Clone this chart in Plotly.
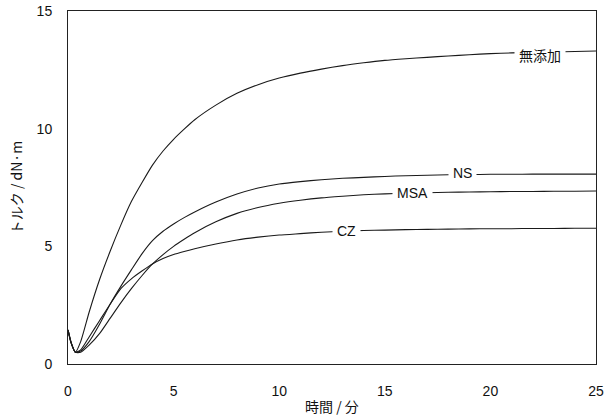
import plotly.graph_objects as go

time_min = [0, 0.15, 0.35, 0.6, 1.0, 1.5, 2.0, 2.5, 3.0, 3.5, 4.0, 4.5, 5.0, 5.5, 6.0,
            7.0, 8.0, 9.0, 10.0, 11.0, 12.0, 13.0, 14.0, 15.0, 16.0, 17.0, 18.0,
            19.0, 20.0, 21.0, 22.0, 23.0, 24.0, 25.0]

mutenka = [1.45, 0.9, 0.5, 0.95, 2.2, 3.6, 4.8, 5.9, 6.9, 7.7, 8.45, 9.05, 9.55, 9.98, 10.38,
           11.0, 11.5, 11.87, 12.15, 12.36, 12.53, 12.68, 12.8, 12.9, 12.97, 13.03, 13.09,
           13.14, 13.19, 13.22, 13.24, 13.26, 13.28, 13.3]
ns = [1.45, 0.9, 0.5, 0.55, 0.95, 1.7, 2.55, 3.3, 4.0, 4.68, 5.24, 5.64, 5.95, 6.22, 6.46,
      6.88, 7.22, 7.48, 7.65, 7.75, 7.83, 7.89, 7.93, 7.97, 8.0, 8.02, 8.04,
      8.05, 8.06, 8.06, 8.07, 8.07, 8.07, 8.07]
msa = [1.45, 0.9, 0.5, 0.5, 0.8, 1.3, 1.95, 2.6, 3.2, 3.75, 4.25, 4.65, 5.0, 5.3, 5.58,
       6.04, 6.4, 6.65, 6.83, 6.96, 7.06, 7.13, 7.19, 7.23, 7.26, 7.28, 7.3,
       7.31, 7.32, 7.33, 7.33, 7.34, 7.34, 7.35]
cz = [1.45, 0.9, 0.5, 0.6, 1.15, 1.85, 2.55, 3.2, 3.62, 3.95, 4.25, 4.48, 4.65, 4.78, 4.9,
      5.1, 5.27, 5.39, 5.48, 5.54, 5.6, 5.64, 5.67, 5.69, 5.71, 5.72, 5.73,
      5.74, 5.75, 5.75, 5.76, 5.76, 5.77, 5.77]

series_names = ["無添加", "NS", "MSA", "CZ"]
label_x = [22.35, 18.66, 16.3, 13.2]
label_y = [13.1, 8.12, 7.27, 5.64]

x_ticks = [0, 5, 10, 15, 20, 25]
y_ticks = [0, 5, 10, 15]

fig = go.Figure()
for name, vals in zip(series_names, [mutenka, ns, msa, cz]):
    fig.add_trace(go.Scatter(x=time_min, y=vals, mode="lines", name=name,
                             line=dict(color="#1a1a1a", width=1.1, shape="spline", smoothing=0.6),
                             showlegend=False))

for name, lx, ly in zip(series_names, label_x, label_y):
    fig.add_annotation(x=lx, y=ly, text=name, showarrow=False, bgcolor="white",
                       borderpad=4,
                       font=dict(family="Liberation Sans, Noto Sans CJK JP", size=14, color="#111"))

fig.update_layout(
    width=613, height=419,
    margin=dict(l=68, r=17, t=11, b=55),
    plot_bgcolor="white", paper_bgcolor="white",
    font=dict(family="Liberation Sans, Noto Sans CJK JP", size=14, color="#111"),
)
fig.update_xaxes(range=[0, 25], tickvals=x_ticks, showgrid=False, zeroline=False,
                 showline=True, linecolor="#222", linewidth=1, mirror=True,
                 ticks="", ticklabelstandoff=14, automargin=False,
                 title=dict(text="時間 / 分", standoff=4,
                            font=dict(family="Noto Sans CJK JP", size=14)))
fig.update_yaxes(range=[0, 15], tickvals=y_ticks, showgrid=False, zeroline=False,
                 showline=True, linecolor="#222", linewidth=1, mirror=True,
                 ticks="", ticklabelstandoff=12, automargin=False,
                 title=dict(text="トルク / dN·m", standoff=10,
                            font=dict(family="Noto Sans CJK JP", size=14)))

fig.write_html("out.html", config={"displayModeBar": False},
               post_script="document.body.style.margin='0';")
